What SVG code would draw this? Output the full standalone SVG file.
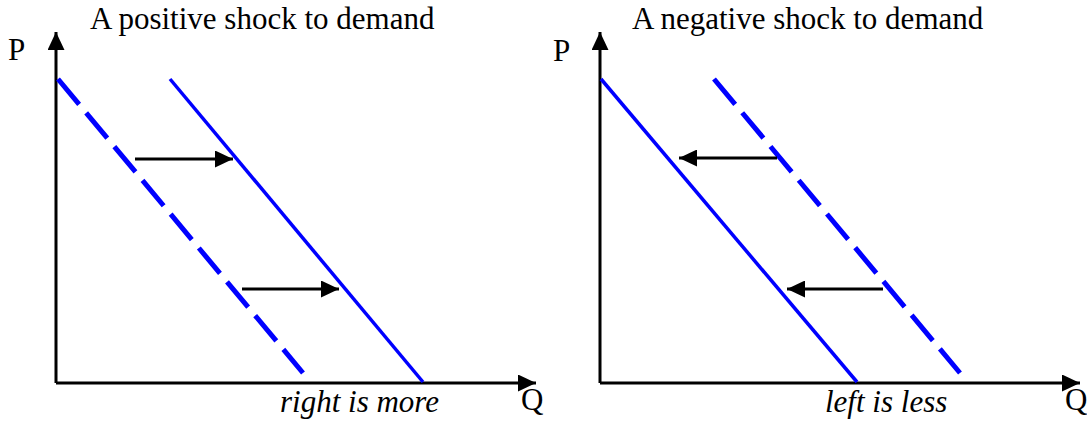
<svg xmlns="http://www.w3.org/2000/svg" width="1087" height="421" viewBox="0 0 1087 421">
<style>
text{font-family:'Liberation Serif','Times New Roman',Times,serif;font-size:31px;fill:#000}
.i{font-style:italic}
.ax{stroke:#000;stroke-width:3;fill:none}
.ar{stroke:#000;stroke-width:3;fill:none}
.sol{stroke:#0000FF;stroke-width:3.5;fill:none}
.dsh{stroke:#0000FF;stroke-width:5;fill:none;stroke-dasharray:33 11}
</style>
<defs>
<marker id="ah" markerUnits="userSpaceOnUse" markerWidth="18" markerHeight="17" refX="18" refY="8.5" orient="auto" viewBox="0 0 18 17">
<path d="M0,0 L18,8.5 L0,17 z" fill="#000"/>
</marker>
</defs>
<rect width="1087" height="421" fill="#fff"/>
<g id="left-panel">
<text x="90" y="29">A positive shock to demand</text>
<text x="8" y="60">P</text>
<text x="521" y="410">Q</text>
<text class="i" x="280" y="412">right is more</text>
<g id="left-axes">
<path class="ax" d="M56,383 L56,32" marker-end="url(#ah)"/>
<path class="ax" d="M56,383 L536,383" marker-end="url(#ah)"/>
</g>
<line class="dsh" x1="58" y1="79" x2="303" y2="373"/>
<line class="sol" x1="170" y1="79" x2="423" y2="382"/>
</g>
<g id="right-panel">
<text x="632" y="29">A negative shock to demand</text>
<text x="553" y="61">P</text>
<text x="1065" y="410">Q</text>
<text class="i" x="825" y="412">left is less</text>
<g id="right-axes">
<path class="ax" d="M600,383 L600,32" marker-end="url(#ah)"/>
<path class="ax" d="M600,383 L1080,383" marker-end="url(#ah)"/>
</g>
<line class="sol" x1="601" y1="79" x2="857" y2="382"/>
<line class="dsh" x1="714" y1="79" x2="960" y2="373"/>
</g>
<g id="connectors">
<line class="ar" x1="135" y1="159" x2="233" y2="159" marker-end="url(#ah)"/>
<line class="ar" x1="242" y1="289" x2="339" y2="289" marker-end="url(#ah)"/>
<line class="ar" x1="777" y1="158" x2="679" y2="158" marker-end="url(#ah)"/>
<line class="ar" x1="883" y1="289" x2="787" y2="289" marker-end="url(#ah)"/>
</g>
</svg>
